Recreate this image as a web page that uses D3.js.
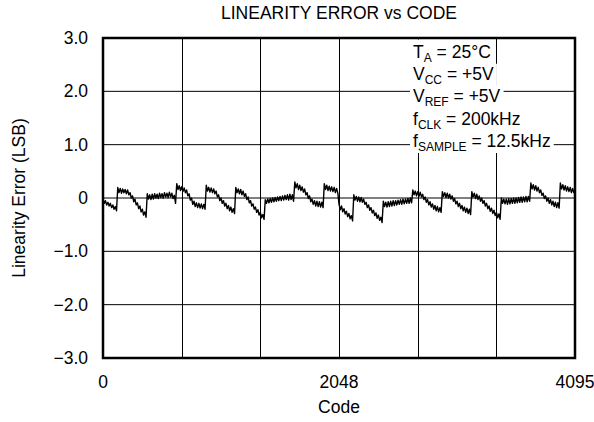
<!doctype html>
<html>
  <head>
    <meta charset="utf-8">
    <title>Linearity Error vs Code</title>
    <style>
      body { margin: 0; background: #fff; }
      svg text { font-family: "Liberation Sans", Arial, sans-serif; font-size: 17.5px; fill: #000; }
      .grid-h { stroke: #000; stroke-width: 1; }
      .grid-v { stroke: #000; stroke-width: 1; }
      .frame { fill: none; stroke: #000; stroke-width: 2.5; }
      .trace { fill: none; stroke: #000; stroke-width: 1.4; stroke-linejoin: round; }
    </style>
    <script src="https://cdn.jsdelivr.net/npm/d3@7"></script>
  </head>
  <body>
  <script>
    // axis setup
    const codeDomain = [0, 4095];
    const errDomain = [-3, 3];
    const yTicks = [3, 2, 1, 0, -1, -2, -3];
    const yTickLabels = ["3.0", "2.0", "1.0", "0", "\u22121.0", "\u22122.0", "\u22123.0"];
    const xTicks = [0, 2048, 4095];
    const xGrid = [682.5, 1365, 2047.5, 2730, 3412.5];

    // start code of each step segment (error jumps at these codes)
    const segmentStarts = [0, 128, 384, 640, 896, 1152, 1408, 1664, 1920,
                           2176, 2432, 2688, 2944, 3200, 3456, 3712, 3968];

    // error (LSB) read along each segment, evenly spread over its codes
    const errorSegments = [
      [-0.02, -0.10, -0.05, -0.13, -0.08, -0.15, -0.10, -0.18, -0.13, -0.21, -0.16, -0.24],
      [0.20, 0.10, 0.18, 0.09, 0.17, 0.10, 0.16, 0.08, 0.15, 0.06, 0.10, 0.00, 0.04, -0.07, -0.02, -0.13, -0.09, -0.20, -0.15, -0.26, -0.21, -0.32, -0.26, -0.36],
      [0.08, -0.02, 0.06, -0.03, 0.07, -0.02, 0.08, 0.00, 0.07, -0.01, 0.09, 0.01, 0.08, 0.00, 0.10, 0.02, 0.09, 0.01, 0.11, 0.02, 0.09, -0.01, 0.05, -0.10],
      [0.27, 0.16, 0.23, 0.14, 0.21, 0.12, 0.19, 0.10, 0.15, 0.04, 0.08, -0.04, 0.00, -0.12, -0.06, -0.16, -0.09, -0.18, -0.10, -0.19, -0.11, -0.20, -0.12, -0.21],
      [0.24, 0.13, 0.20, 0.11, 0.19, 0.10, 0.17, 0.08, 0.13, 0.02, 0.06, -0.05, 0.00, -0.10, -0.05, -0.15, -0.10, -0.20, -0.14, -0.24, -0.17, -0.27, -0.20, -0.29],
      [0.20, 0.10, 0.17, 0.08, 0.16, 0.06, 0.13, 0.03, 0.08, -0.03, 0.02, -0.09, -0.05, -0.15, -0.11, -0.21, -0.17, -0.27, -0.22, -0.32, -0.27, -0.37, -0.31, -0.40],
      [-0.03, -0.10, -0.02, -0.09, -0.01, -0.08, 0.00, -0.07, 0.01, -0.06, 0.02, -0.05, 0.03, -0.05, 0.04, -0.04, 0.05, -0.03, 0.06, -0.04, 0.07, -0.03, 0.06, -0.06],
      [0.30, 0.19, 0.27, 0.16, 0.24, 0.14, 0.21, 0.11, 0.17, 0.06, 0.10, -0.01, 0.04, -0.07, -0.02, -0.12, -0.05, -0.15, -0.06, -0.16, -0.07, -0.17, -0.08, -0.18],
      [0.27, 0.16, 0.24, 0.14, 0.22, 0.13, 0.21, 0.12, 0.20, 0.10, 0.18, 0.09, -0.12, -0.22, -0.15, -0.26, -0.20, -0.30, -0.25, -0.35, -0.29, -0.39, -0.33, -0.43],
      [0.06, -0.04, 0.03, -0.06, 0.02, -0.07, 0.01, -0.08, -0.02, -0.12, -0.08, -0.18, -0.13, -0.23, -0.18, -0.28, -0.23, -0.33, -0.28, -0.38, -0.32, -0.42, -0.36, -0.46],
      [-0.06, -0.16, -0.08, -0.17, -0.07, -0.16, -0.06, -0.15, -0.05, -0.14, -0.05, -0.13, -0.04, -0.12, -0.03, -0.12, -0.02, -0.11, -0.02, -0.10, -0.01, -0.10, 0.00, -0.09],
      [0.15, 0.06, 0.13, 0.04, 0.12, 0.03, 0.11, 0.02, 0.07, -0.03, 0.02, -0.08, -0.03, -0.13, -0.07, -0.17, -0.11, -0.21, -0.14, -0.24, -0.16, -0.26, -0.18, -0.27],
      [0.12, 0.03, 0.10, 0.01, 0.09, 0.00, 0.07, -0.02, 0.04, -0.06, -0.01, -0.11, -0.06, -0.16, -0.10, -0.20, -0.14, -0.24, -0.17, -0.27, -0.19, -0.29, -0.21, -0.31],
      [0.12, 0.02, 0.09, -0.01, 0.07, -0.03, 0.04, -0.06, 0.00, -0.10, -0.05, -0.15, -0.10, -0.20, -0.15, -0.25, -0.19, -0.29, -0.23, -0.33, -0.27, -0.37, -0.30, -0.40],
      [0.00, -0.10, -0.02, -0.11, -0.02, -0.12, -0.01, -0.11, -0.01, -0.10, 0.00, -0.10, 0.00, -0.09, 0.01, -0.08, 0.02, -0.08, 0.02, -0.07, 0.03, -0.07, 0.03, -0.06],
      [0.28, 0.17, 0.25, 0.15, 0.23, 0.13, 0.20, 0.10, 0.15, 0.05, 0.09, -0.01, 0.04, -0.06, 0.00, -0.10, -0.03, -0.13, -0.06, -0.16, -0.08, -0.18, -0.09, -0.19],
      [0.28, 0.17, 0.25, 0.15, 0.23, 0.13, 0.21, 0.12, 0.20, 0.10, 0.18, 0.09]
    ];

    // conditions box: [main, subscript, rest]
    const conditions = [
      ["T", "A", " = 25\u00B0C"],
      ["V", "CC", " = +5V"],
      ["V", "REF", " = +5V"],
      ["f", "CLK", " = 200kHz"],
      ["f", "SAMPLE", " = 12.5kHz"]
    ];

    // flatten segments into [code, error] points
    const points = [];
    errorSegments.forEach((vals, s) => {
      const start = segmentStarts[s],
        end = s + 1 < segmentStarts.length ? segmentStarts[s + 1] : 4096,
        step = (end - start) / vals.length;
      vals.forEach((v, i) => points.push([start + i * step, v]));
    });

    const width = 594, height = 422;
    const plot = {left: 103, right: 575, top: 38, bottom: 358};

    const x = d3.scaleLinear().domain(codeDomain).range([plot.left, plot.right]);
    const y = d3.scaleLinear().domain(errDomain).range([plot.bottom, plot.top]);

    const svg = d3.select("body").append("svg")
      .attr("width", width)
      .attr("height", height);

    // gridlines
    svg.append("g").selectAll("line")
      .data(yTicks.slice(1, -1))
      .enter().append("line")
      .attr("class", "grid-h")
      .attr("x1", plot.left).attr("x2", plot.right)
      .attr("y1", d => y(d)).attr("y2", d => y(d));

    svg.append("g").selectAll("line")
      .data(xGrid)
      .enter().append("line")
      .attr("class", "grid-v")
      .attr("x1", d => Math.round(x(d)) + 0.5).attr("x2", d => Math.round(x(d)) + 0.5)
      .attr("y1", plot.top).attr("y2", plot.bottom);

    // the error trace
    const line = d3.line()
      .x(d => x(d[0]))
      .y(d => y(d[1]));

    svg.append("path")
      .datum(points)
      .attr("class", "trace")
      .attr("d", line);

    // test conditions, with white backing over the grid
    const legend = svg.append("g");
    const lx = 413, ly = 58, lh = 22.2;
    conditions.forEach((c, i) => {
      const t = legend.append("text")
        .attr("x", lx)
        .attr("y", ly + i * lh);
      t.append("tspan").text(c[0]);
      t.append("tspan").attr("dy", 4).style("font-size", "12px").text(c[1]);
      t.append("tspan").attr("dy", -4).text(c[2]);
      const bb = t.node().getBBox();
      const top = i === 0 ? plot.top + 1.5 : ly + i * lh - 16.5;
      legend.insert("rect", "text")
        .attr("x", lx - 3)
        .attr("y", top)
        .attr("width", bb.width + 6)
        .attr("height", ly + i * lh - 16.5 + lh - top + 0.5)
        .attr("fill", "#fff");
    });

    // frame
    svg.append("rect")
      .attr("class", "frame")
      .attr("x", plot.left).attr("y", plot.top)
      .attr("width", plot.right - plot.left)
      .attr("height", plot.bottom - plot.top);

    // tick labels
    svg.append("g").selectAll("text")
      .data(yTicks)
      .enter().append("text")
      .attr("x", 88)
      .attr("y", d => y(d))
      .attr("dy", ".35em")
      .style("text-anchor", "end")
      .text((d, i) => yTickLabels[i]);

    svg.append("g").selectAll("text")
      .data(xTicks)
      .enter().append("text")
      .attr("x", d => x(d))
      .attr("y", 388)
      .style("text-anchor", "middle")
      .text(d => d);

    // titles
    svg.append("text")
      .attr("x", (plot.left + plot.right) / 2)
      .attr("y", 19)
      .style("text-anchor", "middle")
      .text("LINEARITY ERROR vs CODE");

    svg.append("text")
      .attr("x", (plot.left + plot.right) / 2)
      .attr("y", 413)
      .style("text-anchor", "middle")
      .text("Code");

    svg.append("text")
      .attr("transform", "translate(25," + y(0) + ") rotate(-90)")
      .style("text-anchor", "middle")
      .text("Linearity Error (LSB)");
  </script>
  </body>
</html>
